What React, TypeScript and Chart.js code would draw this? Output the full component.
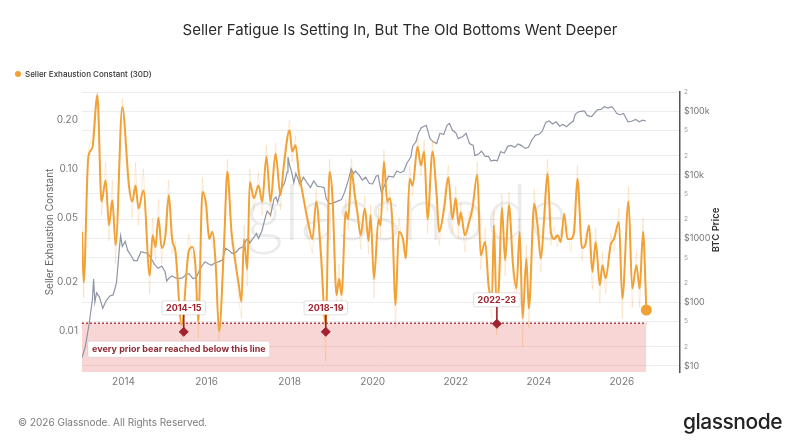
import React, { useEffect, useRef } from "react";
import { Chart, registerables } from "chart.js";

Chart.register(...registerables);

// ---------- data ----------
const SEC_YEARS = [
  2013.0, 2013.04, 2013.15, 2013.25, 2013.37, 2013.47, 2013.57, 2013.65, 2013.73, 2013.81, 2013.97,
  2014.13, 2014.21, 2014.29, 2014.36, 2014.48, 2014.63, 2014.7, 2014.77, 2014.84, 2014.92,
  2015.01, 2015.09, 2015.17, 2015.25, 2015.4, 2015.57, 2015.66, 2015.73, 2015.8, 2015.9, 2015.99,
  2016.06, 2016.14, 2016.22, 2016.3, 2016.42, 2016.5, 2016.6, 2016.68, 2016.78, 2016.84, 2016.9, 2016.98,
  2017.04, 2017.14, 2017.25, 2017.34, 2017.44, 2017.54, 2017.66, 2017.78, 2017.86,
  2018.0, 2018.06, 2018.14, 2018.22, 2018.32, 2018.43, 2018.55, 2018.64, 2018.75, 2018.87, 2018.96,
  2019.03, 2019.13, 2019.19, 2019.25, 2019.35, 2019.41, 2019.49, 2019.57, 2019.63, 2019.71, 2019.81, 2019.9, 2019.95,
  2020.03, 2020.14, 2020.19, 2020.27, 2020.35, 2020.41, 2020.47, 2020.55, 2020.63, 2020.73, 2020.8, 2020.89, 2020.96,
  2021.08, 2021.16, 2021.24, 2021.32, 2021.44, 2021.54, 2021.6, 2021.72, 2021.82, 2021.92,
  2022.0, 2022.07, 2022.12, 2022.22, 2022.32, 2022.4, 2022.52, 2022.6, 2022.71, 2022.79, 2022.87, 2022.92, 2022.98,
  2023.04, 2023.11, 2023.19, 2023.28, 2023.38, 2023.46, 2023.54, 2023.61, 2023.7, 2023.76, 2023.89, 2023.97,
  2024.05, 2024.13, 2024.21, 2024.29, 2024.37, 2024.45, 2024.53, 2024.61, 2024.69, 2024.77, 2024.85, 2024.93,
  2025.04, 2025.12, 2025.21, 2025.29, 2025.37, 2025.47, 2025.53, 2025.61, 2025.73, 2025.81, 2025.93,
  2026.01, 2026.16, 2026.25, 2026.35, 2026.43, 2026.51, 2026.59,
];
const SEC_VALUES = [
  0.041, 0.02, 0.117, 0.135, 0.285, 0.063, 0.085, 0.045, 0.064, 0.034, 0.241,
  0.079, 0.063, 0.079, 0.057, 0.074, 0.022, 0.039, 0.033, 0.05, 0.0325,
  0.039, 0.069, 0.037, 0.031, 0.011, 0.031, 0.033, 0.0255, 0.0114, 0.072, 0.06,
  0.037, 0.041, 0.0255, 0.01, 0.034, 0.096, 0.041, 0.028, 0.019, 0.0152, 0.037, 0.024,
  0.083, 0.066, 0.079, 0.063, 0.119, 0.063, 0.124, 0.069, 0.105,
  0.173, 0.128, 0.14, 0.096, 0.069, 0.049, 0.037, 0.063, 0.031, 0.011, 0.096,
  0.069, 0.0167, 0.021, 0.0167, 0.0545, 0.049, 0.096, 0.069, 0.054, 0.039, 0.057, 0.036, 0.052,
  0.021, 0.049, 0.045, 0.111, 0.063, 0.066, 0.049, 0.0145, 0.041, 0.037, 0.028, 0.087, 0.079,
  0.137, 0.105, 0.128, 0.049, 0.128, 0.069, 0.041, 0.057, 0.089, 0.049,
  0.066, 0.045, 0.054, 0.039, 0.047, 0.057, 0.092, 0.0294, 0.0355, 0.0192, 0.0159, 0.045, 0.0145,
  0.0192, 0.058, 0.0274, 0.06, 0.0255, 0.0183, 0.041, 0.012, 0.028, 0.0138, 0.061, 0.045,
  0.028, 0.05, 0.094, 0.041, 0.037, 0.039, 0.0355, 0.053, 0.037, 0.037, 0.041, 0.087,
  0.0325, 0.034, 0.045, 0.0232, 0.0355, 0.0192, 0.0255, 0.0212, 0.034, 0.037, 0.047,
  0.0159, 0.063, 0.0183, 0.0255, 0.0183, 0.041, 0.0135,
];
const SEC_RAW = [
  0.045, 0.016, 0.13, 0.16, 0.3, 0.052, 0.11, 0.036, 0.085, 0.026, 0.27,
  0.09, 0.05, 0.11, 0.045, 0.1, 0.017, 0.05, 0.027, 0.065, 0.026,
  0.048, 0.085, 0.03, 0.036, 0.0085, 0.04, 0.028, 0.03, 0.009, 0.088, 0.05,
  0.042, 0.034, 0.03, 0.0075, 0.04, 0.115, 0.034, 0.035, 0.015, 0.012, 0.045, 0.019,
  0.1, 0.055, 0.095, 0.052, 0.14, 0.05, 0.145, 0.056, 0.125,
  0.2, 0.11, 0.16, 0.08, 0.075, 0.04, 0.03, 0.075, 0.025, 0.0065, 0.115,
  0.058, 0.013, 0.026, 0.013, 0.065, 0.042, 0.115, 0.058, 0.06, 0.032, 0.068, 0.03, 0.06,
  0.016, 0.058, 0.038, 0.13, 0.055, 0.075, 0.04, 0.0105, 0.05, 0.031, 0.033, 0.105, 0.068,
  0.16, 0.09, 0.15, 0.04, 0.15, 0.058, 0.034, 0.068, 0.105, 0.04,
  0.078, 0.037, 0.062, 0.031, 0.055, 0.05, 0.11, 0.024, 0.043, 0.016, 0.012, 0.055, 0.0095,
  0.023, 0.07, 0.022, 0.072, 0.021, 0.014, 0.05, 0.008, 0.034, 0.0105, 0.075, 0.038,
  0.023, 0.06, 0.115, 0.034, 0.044, 0.033, 0.042, 0.046, 0.044, 0.031, 0.048, 0.105,
  0.027, 0.04, 0.038, 0.018, 0.043, 0.015, 0.031, 0.017, 0.04, 0.031, 0.057,
  0.012, 0.078, 0.014, 0.031, 0.014, 0.05, 0.0125,
];

const BTC_YEARS = [
  2013.0, 2013.08, 2013.17, 2013.25, 2013.28, 2013.31, 2013.35, 2013.42, 2013.5, 2013.58, 2013.67, 2013.75, 2013.83, 2013.9, 2013.93, 2013.97,
  2014.04, 2014.1, 2014.17, 2014.25, 2014.33, 2014.42, 2014.5, 2014.58, 2014.67, 2014.75, 2014.83, 2014.92,
  2015.0, 2015.04, 2015.1, 2015.17, 2015.25, 2015.33, 2015.42, 2015.5, 2015.58, 2015.67, 2015.75, 2015.83, 2015.9, 2015.96,
  2016.04, 2016.12, 2016.21, 2016.29, 2016.38, 2016.46, 2016.54, 2016.62, 2016.71, 2016.79, 2016.88, 2016.96,
  2017.0, 2017.04, 2017.12, 2017.2, 2017.25, 2017.33, 2017.42, 2017.46, 2017.5, 2017.54, 2017.62, 2017.67, 2017.71, 2017.79, 2017.88, 2017.94, 2017.96,
  2018.0, 2018.05, 2018.1, 2018.15, 2018.25, 2018.33, 2018.42, 2018.5, 2018.58, 2018.67, 2018.75, 2018.83, 2018.88, 2018.96,
  2019.04, 2019.17, 2019.25, 2019.33, 2019.42, 2019.48, 2019.54, 2019.58, 2019.67, 2019.75, 2019.83, 2019.92,
  2020.0, 2020.08, 2020.13, 2020.21, 2020.29, 2020.38, 2020.5, 2020.58, 2020.67, 2020.75, 2020.83, 2020.92, 2020.96,
  2021.04, 2021.1, 2021.17, 2021.29, 2021.38, 2021.46, 2021.54, 2021.62, 2021.71, 2021.79, 2021.85, 2021.92,
  2022.0, 2022.06, 2022.17, 2022.25, 2022.33, 2022.42, 2022.46, 2022.54, 2022.62, 2022.71, 2022.79, 2022.85, 2022.92,
  2023.0, 2023.08, 2023.17, 2023.25, 2023.33, 2023.42, 2023.5, 2023.58, 2023.67, 2023.75, 2023.83, 2023.92,
  2024.0, 2024.08, 2024.17, 2024.25, 2024.33, 2024.42, 2024.5, 2024.58, 2024.67, 2024.75, 2024.83, 2024.88, 2024.96,
  2025.04, 2025.1, 2025.17, 2025.27, 2025.35, 2025.42, 2025.5, 2025.58, 2025.67, 2025.75, 2025.79, 2025.88, 2025.96,
  2026.04, 2026.1, 2026.15, 2026.25, 2026.33, 2026.42, 2026.5, 2026.58,
];
const BTC_PRICES = [
  13.5, 20, 45, 110, 230, 100, 140, 120, 80, 105, 125, 130, 200, 700, 1100, 750,
  900, 650, 550, 450, 450, 620, 600, 590, 480, 390, 340, 370,
  300, 215, 240, 260, 240, 235, 240, 270, 280, 235, 240, 320, 380, 430,
  400, 380, 420, 430, 460, 700, 650, 580, 610, 700, 740, 960,
  1000, 850, 1000, 1200, 1000, 1300, 2200, 2700, 2500, 2300, 4100, 4500, 3700, 5800, 7500, 11000, 19000,
  14000, 11000, 7500, 10500, 7000, 9200, 7500, 6300, 8000, 6600, 6500, 6300, 4200, 3500,
  3600, 3900, 4100, 5500, 8500, 12500, 10500, 11500, 10000, 8300, 9200, 7300,
  7200, 9500, 9800, 5200, 7000, 9500, 9200, 11500, 10800, 11500, 15500, 19000, 28000,
  33000, 45000, 55000, 60000, 37000, 33000, 31000, 45000, 43000, 60000, 64000, 50000,
  46000, 37000, 40000, 45000, 31000, 29000, 20000, 21000, 23500, 19500, 19500, 16500, 17000,
  16600, 23000, 22000, 28000, 29000, 27000, 30500, 29000, 26000, 27000, 35000, 42000,
  43000, 48000, 67000, 70000, 63000, 68000, 58000, 62000, 57000, 64000, 70000, 90000, 98000,
  100000, 100000, 85000, 82000, 95000, 106000, 107000, 118000, 112000, 118000, 112000, 92000, 88000,
  92000, 78000, 68000, 70000, 74000, 68000, 72000, 70000,
];

const LEFT_TICKS = [0.01, 0.02, 0.05, 0.1, 0.2];
const RIGHT_TICKS = [10, 20, 50, 100, 200, 500, 1000, 2000, 5000, 10000, 20000, 50000, 100000, 200000];
const X_TICKS = [2014, 2016, 2018, 2020, 2022, 2024, 2026];
const THRESHOLD = 0.0112;
const THRESHOLD_YEARS = [2013.0, 2026.59];
const BOTTOM_YEARS = [2015.45, 2018.87, 2022.99];
const BOTTOM_VALUES = [0.0099, 0.0099, 0.0111];
const BOTTOM_LABELS = ["2014-15", "2018-19", "2022-23"];
const THRESHOLD_NOTE = "every prior bear reached below this line";

// ---------- styles ----------
const ORANGE = "#f1a135";
const DARK_RED = "#a0232f";
const FONT = "Inter, 'Noto Sans', sans-serif";

const RIGHT_LABELS: Record<number, string> = {
  10: "$10",
  100: "$100",
  1000: "$1000",
  10000: "$10k",
  100000: "$100k",
};

const overlayPlugin = {
  id: "overlay",
  beforeDatasetsDraw(chart: any) {
    const { ctx, chartArea } = chart;
    ctx.save();
    ctx.font = `300 76px Lato, ${FONT}`;
    ctx.fillStyle = "rgba(0,0,0,0.075)";
    ctx.textAlign = "center";
    ctx.textBaseline = "alphabetic";
    ctx.fillText("glassnode", (chartArea.left + chartArea.right) / 2 + 25, chartArea.top + 148);
    ctx.restore();
  },
  afterDatasetsDraw(chart: any) {
    const { ctx, scales, chartArea } = chart;
    const xs = scales.x;
    const ys = scales.y;
    ctx.save();
    ctx.font = `bold 9px ${FONT}`;
    ctx.textAlign = "center";
    ctx.textBaseline = "middle";
    BOTTOM_YEARS.forEach((yr, i) => {
      const px = xs.getPixelForValue(yr);
      const py = ys.getPixelForValue(BOTTOM_VALUES[i]);
      const ly = py - 24;
      ctx.strokeStyle = DARK_RED;
      ctx.lineWidth = 1.6;
      ctx.beginPath();
      ctx.moveTo(px, ly + 7);
      ctx.lineTo(px, py - 3);
      ctx.stroke();
      const label = BOTTOM_LABELS[i];
      const w = ctx.measureText(label).width + 8;
      ctx.fillStyle = "#ffffff";
      ctx.strokeStyle = "rgba(0,0,0,0.12)";
      ctx.lineWidth = 1;
      ctx.beginPath();
      ctx.roundRect(px - w / 2, ly - 7, w, 14, 2);
      ctx.fill();
      ctx.stroke();
      ctx.fillStyle = DARK_RED;
      ctx.fillText(label, px, ly + 0.5);
    });
    // threshold note
    const ty = ys.getPixelForValue(THRESHOLD) + 26;
    ctx.font = `bold 9px ${FONT}`;
    const tw = ctx.measureText(THRESHOLD_NOTE).width + 8;
    const tx = chartArea.left + 6;
    ctx.fillStyle = "#ffffff";
    ctx.strokeStyle = "rgba(0,0,0,0.08)";
    ctx.beginPath();
    ctx.roundRect(tx, ty - 8, tw, 16, 2);
    ctx.fill();
    ctx.stroke();
    ctx.fillStyle = "#8e2b36";
    ctx.textAlign = "left";
    ctx.fillText(THRESHOLD_NOTE, tx + 4, ty + 0.5);
    ctx.restore();
  },
  afterDraw(chart: any) {
    const { ctx, scales } = chart;
    const r = scales.y2;
    ctx.save();
    ctx.translate(r.left + 36, (r.top + r.bottom) / 2 - 2);
    ctx.rotate(-Math.PI / 2);
    ctx.font = `600 9.5px ${FONT}`;
    ctx.fillStyle = "#333";
    ctx.textAlign = "center";
    ctx.textBaseline = "middle";
    ctx.fillText("BTC Price", 0, 0);
    ctx.restore();
  },
};

export default function App() {
  const ref = useRef<HTMLCanvasElement | null>(null);

  useEffect(() => {
    if (!ref.current) return;
    const secData = SEC_YEARS.map((x, i) => ({ x, y: SEC_VALUES[i] }));
    const rawData = SEC_YEARS.map((x, i) => ({ x, y: SEC_RAW[i] }));
    const btcData = BTC_YEARS.map((x, i) => ({ x, y: BTC_PRICES[i] }));
    const thrData = THRESHOLD_YEARS.map((x) => ({ x, y: THRESHOLD }));
    const botData = BOTTOM_YEARS.map((x, i) => ({ x, y: BOTTOM_VALUES[i] }));
    const last = secData.length - 1;

    const chart = new Chart(ref.current, {
      type: "line",
      data: {
        datasets: [
          {
            label: "bottoms",
            data: botData,
            yAxisID: "y",
            showLine: false,
            pointStyle: "rectRot",
            pointRadius: 4.5,
            pointBackgroundColor: DARK_RED,
            pointBorderColor: DARK_RED,
            order: -1,
          },
          {
            label: "Seller Exhaustion Constant (30D)",
            data: secData,
            yAxisID: "y",
            borderColor: ORANGE,
            borderWidth: 2,
            cubicInterpolationMode: "monotone",
            pointRadius: (c: any) => (c.dataIndex === last ? 4.5 : 0),
            pointBackgroundColor: ORANGE,
            pointBorderColor: ORANGE,
            order: 0,
          },
          {
            label: "raw",
            data: rawData,
            yAxisID: "y",
            borderColor: "rgba(241,161,53,0.2)",
            borderWidth: 1,
            tension: 0,
            pointRadius: 0,
            order: 1,
          },
          {
            label: "BTC Price",
            data: btcData,
            yAxisID: "y2",
            borderColor: "#8e95a5",
            borderWidth: 1.2,
            tension: 0,
            pointRadius: 0,
            order: 2,
          },
          {
            label: "threshold",
            data: thrData,
            yAxisID: "y",
            borderColor: DARK_RED,
            borderWidth: 1.3,
            borderDash: [2, 2],
            pointRadius: 0,
            fill: "start",
            backgroundColor: "rgba(236,120,120,0.3)",
            order: 3,
          },
        ],
      },
      options: {
        responsive: false,
        animation: false,
        events: [],
        layout: { padding: { top: 92, left: 0, right: 0, bottom: 0 } },
        plugins: {
          legend: { display: false },
          title: { display: false },
          tooltip: { enabled: false },
        },
        scales: {
          x: {
            type: "linear",
            min: 2013.0,
            max: 2027.4,
            grid: { display: false, drawTicks: false },
            border: { display: false },
            afterBuildTicks: (s: any) => {
              s.ticks = X_TICKS.map((v) => ({ value: v }));
            },
            afterFit: (s: any) => {
              s.height = 73;
            },
            ticks: {
              padding: 4,
              color: "#7a7a7a",
              font: { family: FONT, size: 10 },
              maxRotation: 0,
              autoSkip: false,
              callback: (v: any) => String(v),
            },
          },
          y: {
            type: "logarithmic",
            position: "left",
            min: 0.0056,
            max: 0.298,
            grid: { display: false, drawTicks: false },
            border: { display: false },
            afterBuildTicks: (s: any) => {
              s.ticks = LEFT_TICKS.map((v) => ({ value: v }));
            },
            afterFit: (s: any) => {
              s.width = 82;
            },
            ticks: {
              padding: 4,
              color: "#7a7a7a",
              font: { family: FONT, size: 10 },
              callback: (v: any) => Number(v).toFixed(2),
            },
            title: {
              display: true,
              text: "Seller Exhaustion Constant",
              color: "#666",
              font: { family: FONT, size: 10 },
              padding: { top: 44, bottom: 0 },
            },
          },
          y2: {
            type: "logarithmic",
            position: "right",
            min: 8,
            max: 200000,
            grid: { display: true, drawTicks: false, color: "#ededed", lineWidth: 1 },
            border: { display: true, color: "#555", width: 1.5 },
            afterBuildTicks: (s: any) => {
              s.ticks = RIGHT_TICKS.map((v) => ({ value: v }));
            },
            afterFit: (s: any) => {
              s.width = 120;
            },
            ticks: {
              padding: 4,
              autoSkip: false,
              color: (c: any) => (RIGHT_LABELS[c.tick?.value] ? "#777" : "#999"),
              font: (c: any) => ({
                family: FONT,
                size: RIGHT_LABELS[c.tick?.value] ? 9 : 6.5,
              }),
              callback: (v: any) => {
                const n = Number(v);
                if (RIGHT_LABELS[n]) return RIGHT_LABELS[n];
                return String(n).charAt(0);
              },
            },
          },
        },
      },
      plugins: [overlayPlugin],
    } as any);
    return () => chart.destroy();
  }, []);

  return (
    <div
      style={{
        position: "fixed",
        left: 0,
        top: 0,
        width: 800,
        height: 445,
        background: "#fff",
        fontFamily: FONT,
        overflow: "hidden",
      }}
    >
      <canvas
        ref={ref}
        width={800}
        height={445}
        style={{ position: "absolute", left: 0, top: 0, width: 800, height: 445 }}
      />
      <div
        style={{
          position: "absolute",
          top: 20,
          left: 0,
          width: 800,
          textAlign: "center",
          fontSize: 15,
          lineHeight: "20px",
          color: "#2a2a2a",
        }}
      >
        Seller Fatigue Is Setting In, But The Old Bottoms Went Deeper
      </div>
      <div
        style={{
          position: "absolute",
          top: 69,
          left: 15,
          display: "flex",
          alignItems: "center",
          fontSize: 8,
          fontWeight: 500,
          color: "#333",
        }}
      >
        <span
          style={{
            display: "inline-block",
            width: 6,
            height: 6,
            borderRadius: "50%",
            background: ORANGE,
            marginRight: 4,
          }}
        />
        Seller Exhaustion Constant (30D)
      </div>
      <div
        style={{
          position: "absolute",
          top: 416,
          left: 18,
          fontSize: 10,
          color: "#7a7a7a",
        }}
      >
        © 2026 Glassnode. All Rights Reserved.
      </div>
      <div
        style={{
          position: "absolute",
          top: 409,
          right: 18,
          fontSize: 21,
          fontWeight: 500,
          letterSpacing: -0.5,
          color: "#222",
        }}
      >
        glassnode
      </div>
    </div>
  );
}
